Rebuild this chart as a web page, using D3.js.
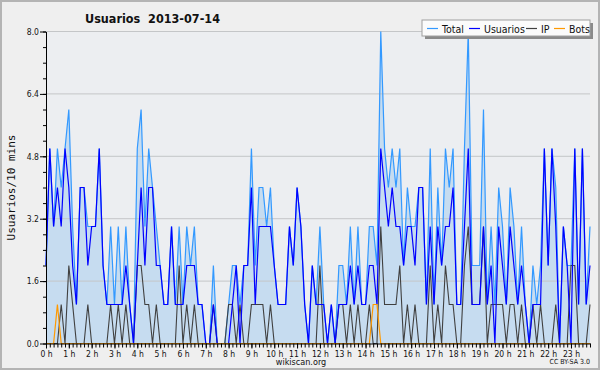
<!DOCTYPE html>
<html>
<head>
<meta charset="utf-8">
<script src="https://cdnjs.cloudflare.com/ajax/libs/d3/7.8.5/d3.min.js"></script>
<style>
  body { margin: 0; background: #efefef; }
  svg { display: block; }
  text { font-family: "DejaVu Sans Condensed", "DejaVu Sans", sans-serif; fill: #111; }
</style>
</head>
<body>
<div id="chart"></div>
<script>
// one value per 10 minutes, 0:00 .. 23:50
const hourLabels = d3.range(24).map(h => h + " h");
const yTicks = [0, 1.6, 3.2, 4.8, 6.4, 8.0];

const total = [2,5,3,5,4,5,6,3,1,4, 4,3,3,3,5,2,1,3,1,3, 1,3,1,0,5,6,3,5,4,3,
  2,1,1,3,1,3,1,3,2,3, 1,1,0,0,2,0,0,0,1,2, 2,1,2,2,5,2,4,4,3,4,
  2,1,1,1,3,2,4,3,1,0, 2,1,3,1,0,1,0,2,2,1, 3,1,3,1,1,3,3,2,8,5,
  4,5,4,5,2,4,3,3,4,4, 1,5,1,4,2,5,4,5,1,1, 5,8,2,2,2,6,1,3,1,4,
  3,1,4,3,1,3,1,0,2,1, 2,5,2,5,4,0,3,2,2,5, 1,5,1,3];
const usuarios = [2,5,3,4,3,5,4,2,1,4, 4,2,3,3,5,2,1,1,1,1, 1,2,1,0,2,4,2,4,4,2,
  2,1,1,3,1,1,1,2,2,2, 1,1,0,0,1,0,0,0,0,1, 2,0,2,2,4,1,3,3,3,3,
  2,1,1,1,3,2,4,3,1,0, 2,1,1,1,0,1,0,1,1,1, 2,1,2,1,1,2,2,1,5,4,
  3,4,3,3,2,3,3,2,4,4, 1,3,1,3,2,3,3,4,1,1, 3,5,1,1,1,3,1,2,0,3,
  2,1,3,2,1,2,1,0,1,1, 1,5,2,5,3,0,3,2,0,5, 1,5,1,2];
const ip = [0,0,0,0,1,0,2,1,0,0, 0,1,0,0,0,0,0,1,0,1, 0,1,0,0,2,2,1,1,0,1,
  0,0,0,0,0,2,0,1,0,1, 0,0,0,0,1,0,0,0,1,1, 0,1,0,0,1,1,1,1,0,1,
  0,0,0,0,0,0,0,0,0,0, 0,0,2,0,0,0,0,1,1,0, 1,0,1,0,0,1,0,0,3,1,
  1,1,1,2,0,1,0,1,0,0, 0,2,0,1,0,2,1,1,0,0, 2,3,1,1,1,3,0,1,1,1,
  1,0,1,1,0,1,0,0,1,0, 1,0,0,0,1,0,0,0,2,2, 0,0,0,1];
const bots = [0,0,0,1,0,0,0,0,0,0, 0,0,0,0,0,0,0,0,0,0, 0,0,0,0,0,0,0,0,0,0,
  0,0,0,0,0,0,0,0,0,0, 0,0,0,0,0,0,0,0,0,0, 0,0,0,0,0,0,0,0,0,0,
  0,0,0,0,0,0,0,0,0,0, 0,0,0,0,0,0,0,0,0,0, 0,0,0,0,0,0,1,1,0,0,
  0,0,0,0,0,0,0,0,0,0, 0,0,0,0,0,0,0,0,0,0, 0,0,0,0,0,0,0,0,0,0,
  0,0,0,0,0,0,0,0,0,0, 0,0,0,0,0,0,0,0,0,0, 0,0,0,0];

const legendNames = ["Total", "Usuarios", "IP", "Bots"];
const legendColors = ["#3399ff", "#0000ff", "#404040", "#ff9900"];

const width = 600, height = 370;
const plot = { left: 46, right: 590, top: 31.5, bottom: 343.5 };

const svg = d3.select("#chart").append("svg")
  .attr("width", width)
  .attr("height", height);

svg.append("rect")
  .attr("x", 1).attr("y", 1)
  .attr("width", width - 2).attr("height", height - 2)
  .attr("fill", "#efefef")
  .attr("stroke", "#b4b4b4")
  .attr("stroke-width", 2);

const x = d3.scaleLinear().domain([0, total.length - 1]).range([plot.left, plot.right]);
const y = d3.scaleLinear().domain([0, 8]).range([plot.bottom, plot.top]);

svg.append("rect")
  .attr("x", plot.left).attr("y", plot.top)
  .attr("width", plot.right - plot.left).attr("height", plot.bottom - plot.top)
  .attr("fill", "#eceef1");

// area under total
svg.append("path")
  .datum(total)
  .attr("fill", "#c6dcf0")
  .attr("d", d3.area().x((d, i) => x(i)).y0(y(0)).y1(d => y(d)));

// grid
svg.append("g")
  .selectAll("line")
  .data(yTicks.slice(1))
  .enter()
  .append("line")
  .attr("x1", plot.left).attr("x2", plot.right)
  .attr("y1", d => y(d)).attr("y2", d => y(d))
  .attr("stroke", "#c4c6c8")
  .attr("stroke-width", 1);

const line = d3.line().x((d, i) => x(i)).y(d => y(d));

svg.append("path").datum(total)
  .attr("fill", "none").attr("stroke", legendColors[0]).attr("stroke-width", 1.2)
  .attr("d", line);
svg.append("path").datum(ip)
  .attr("fill", "none").attr("stroke", legendColors[2]).attr("stroke-width", 1.1)
  .attr("d", line);
svg.append("path").datum(usuarios)
  .attr("fill", "none").attr("stroke", legendColors[1]).attr("stroke-width", 1.2)
  .attr("d", line);
svg.append("path").datum(bots)
  .attr("fill", "none").attr("stroke", legendColors[3]).attr("stroke-width", 1.2)
  .attr("d", line);

// y axis: minor ticks every 0.4, labels every 1.6
svg.append("g")
  .attr("transform", `translate(${plot.left},0)`)
  .call(d3.axisLeft(y).tickValues(d3.range(0, 8.01, 0.4)).tickSize(3).tickFormat(""))
  .call(g => g.select(".domain").remove());
const yAxis = svg.append("g")
  .attr("transform", `translate(${plot.left},0)`)
  .call(d3.axisLeft(y).tickValues(yTicks).tickFormat(d3.format(".1f")).tickSize(6).tickSizeOuter(0).tickPadding(1));
yAxis.selectAll("text").style("font-size", "8.5px").attr("fill", "#111");

// x axis: a tick each 10 minutes, a label each hour
svg.append("g")
  .attr("transform", `translate(0,${plot.bottom})`)
  .call(d3.axisBottom(x).tickValues(d3.range(total.length)).tickSize(4).tickFormat(""))
  .call(g => g.select(".domain").remove());
const xAxis = svg.append("g")
  .attr("transform", `translate(0,${plot.bottom})`)
  .call(d3.axisBottom(x).tickValues(d3.range(0, total.length, 6))
    .tickFormat(i => hourLabels[i / 6]).tickSize(5).tickSizeOuter(0).tickPadding(2));
xAxis.selectAll("text").style("font-size", "8.5px").attr("fill", "#111");
svg.selectAll(".domain").attr("stroke", "#000");

// titles
svg.append("text")
  .attr("x", 85).attr("y", 23)
  .style("font-size", "12.5px").style("font-weight", "bold")
  .attr("xml:space", "preserve")
  .text("Usuarios  2013-07-14");

svg.append("text")
  .attr("transform", `translate(15,${(plot.top + plot.bottom) / 2}) rotate(-90)`)
  .attr("text-anchor", "middle")
  .style("font-family", "'DejaVu Sans Mono', monospace")
  .style("font-size", "11px")
  .text("Usuarios/10 mins");

svg.append("text")
  .attr("x", 301).attr("y", 365)
  .attr("text-anchor", "middle")
  .style("font-size", "9px")
  .text("wikiscan.org");

svg.append("text")
  .attr("x", 590).attr("y", 364)
  .attr("text-anchor", "end")
  .style("font-size", "7px")
  .attr("fill", "#333")
  .text("CC BY-SA 3.0");

// legend
const legend = svg.append("g").attr("transform", "translate(422,20)");
legend.append("rect")
  .attr("x", 3).attr("y", 3).attr("width", 168).attr("height", 16)
  .attr("fill", "#8a8a8a");
legend.append("rect")
  .attr("x", 0).attr("y", 0).attr("width", 168).attr("height", 16)
  .attr("fill", "#fbfbfb").attr("stroke", "#a0a0a0");
const legendX = [5, 47, 104, 132];
legendNames.forEach((name, k) => {
  legend.append("line")
    .attr("x1", legendX[k]).attr("x2", legendX[k] + 11)
    .attr("y1", 8.5).attr("y2", 8.5)
    .attr("stroke", legendColors[k]).attr("stroke-width", 1.2);
  legend.append("text")
    .attr("x", legendX[k] + 15).attr("y", 12.5)
    .style("font-size", "10.5px")
    .text(name);
});
</script>
</body>
</html>
